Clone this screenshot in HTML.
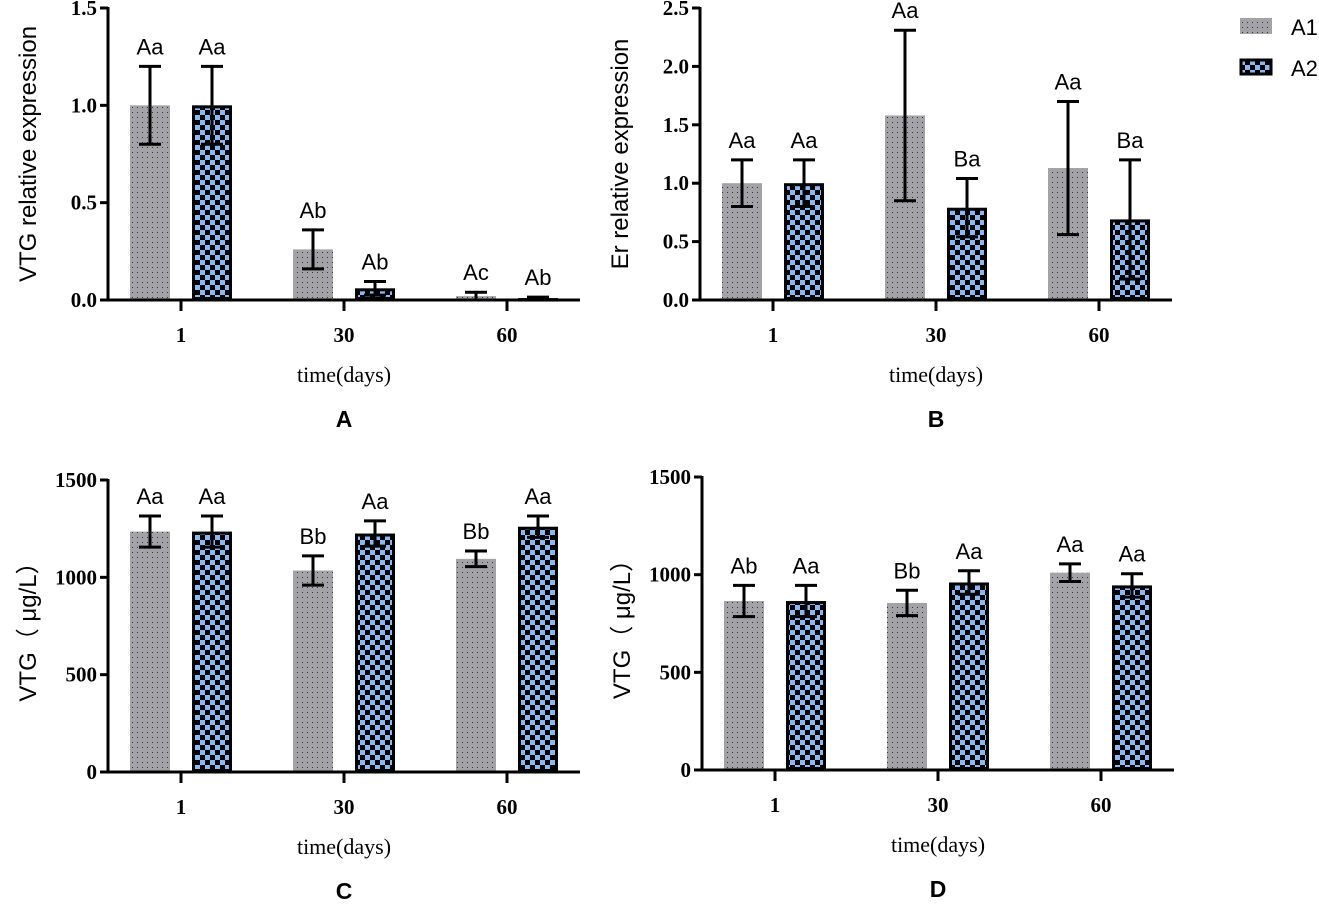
<!DOCTYPE html>
<html><head><meta charset="utf-8"><style>
html,body{margin:0;padding:0;background:#fff;}
svg{display:block;}
.tk{font-family:"Liberation Serif",serif;font-weight:bold;font-size:21px;}
.xt{font-family:"Liberation Serif",serif;font-size:22px;}
.sa{font-family:"Liberation Sans",sans-serif;}
</style></head><body>
<svg id="c" width="1319" height="907" xmlns="http://www.w3.org/2000/svg">
<defs>
<pattern id="dots" width="5" height="5" patternUnits="userSpaceOnUse">
<rect width="5" height="5" fill="#a3a3a7"/><rect x="2" y="2" width="1" height="1" fill="#333"/></pattern>
<pattern id="chk" width="10" height="10" patternUnits="userSpaceOnUse">
<rect width="10" height="10" fill="#000"/><rect width="5" height="5" fill="#8ab8f0"/><rect x="5" y="5" width="5" height="5" fill="#8ab8f0"/></pattern>
</defs>
<g>
<rect x="1240" y="18" width="32" height="16" fill="url(#dots)"/>
<text x="1291" y="35" class="sa" font-size="22">A1</text>
<rect x="1241" y="60" width="30" height="14" fill="url(#chk)" stroke="#000" stroke-width="3"/>
<text x="1291" y="76" class="sa" font-size="22">A2</text>
</g>
</svg>
<script>
const groups=["1","30","60"];
const aA1=[1.0,0.26,0.02], aA1e=[0.2,0.1,0.02], aA2=[1.0,0.06,0.01], aA2e=[0.2,0.035,0.005];
const aL1=["Aa","Ab","Ac"], aL2=["Aa","Ab","Ab"];
const bA1=[1.0,1.58,1.13], bA1e=[0.2,0.73,0.57], bA2=[1.0,0.79,0.69], bA2e=[0.2,0.25,0.51];
const bL1=["Aa","Aa","Aa"], bL2=["Aa","Ba","Ba"];
const cA1=[1235,1035,1095], cA1e=[80,75,40], cA2=[1235,1225,1260], cA2e=[80,65,55];
const cL1=["Aa","Bb","Bb"], cL2=["Aa","Aa","Aa"];
const dA1=[865,855,1010], dA1e=[80,65,45], dA2=[865,960,945], dA2e=[80,60,60];
const dL1=["Ab","Bb","Aa"], dL2=["Aa","Aa","Aa"];
const aTicks=["0.0","0.5","1.0","1.5"], bTicks=["0.0","0.5","1.0","1.5","2.0","2.5"], cTicks=["0","500","1000","1500"];

const svg=document.getElementById('c');
const NS="http://www.w3.org/2000/svg";
function mk(t,a,p){const e=document.createElementNS(NS,t);for(const k in a)e.setAttribute(k,a[k]);(p||svg).appendChild(e);return e;}

function panel(id,ax,y0,yTop,ymax,ticks,s1,e1,s2,e2,l1,l2,ytitle,letter){
  const g=mk('g',{});
  
  
  const ys=v=>y0-(v/ymax)*(y0-yTop);
  const xc=i=>ax+73+i*163;
  const yl=mk('line',{x1:ax,y1:yTop-1,x2:ax,y2:y0+1.5,stroke:'#000','stroke-width':3},g);
  
  
  ticks.forEach(t=>{
    const v=parseFloat(t),y=ys(v);
    mk('line',{x1:ax-8,y1:y,x2:ax,y2:y,stroke:'#000','stroke-width':3},g);
    const tx=mk('text',{x:ax-11,y:y+7,'text-anchor':'end',class:'tk'},g);
    tx.textContent=t;
    
    
  });
  const xl=mk('line',{x1:ax,y1:y0,x2:ax+472,y2:y0,stroke:'#000','stroke-width':3},g);
  
  
  groups.forEach((gname,i)=>{
    const c=xc(i);
    mk('line',{x1:c,y1:y0,x2:c,y2:y0+11,stroke:'#000','stroke-width':3},g);
    const tx=mk('text',{x:c,y:y0+42,'text-anchor':'middle',class:'tk'},g);
    tx.textContent=gname;
    
    
    const x1=c-51,w=40;
    const r1=mk('rect',{x:x1,y:ys(s1[i]),width:w,height:y0-1.5-ys(s1[i]),fill:'url(#dots)'},g);
    
    
    const x2=c+12.5,w2=37;
    const h2=Math.max(y0-1.5-ys(s2[i])-1.5,0.5);
    const r2=mk('rect',{x:x2,y:ys(s2[i])+1.5,width:w2,height:h2,fill:'url(#chk)',stroke:'#000','stroke-width':3},g);
    
    
    [[x1+w/2,s1[i],e1[i],l1[i],'a1'],[x2+w2/2,s2[i],e2[i],l2[i],'a2']].forEach(([cx,v,e,lab,sn])=>{
      const top=ys(v+e),bot=ys(Math.max(v-e,0));
      const eg=mk('g',{stroke:'#000','stroke-width':3},g);
      
      
      mk('line',{x1:cx,y1:top,x2:cx,y2:bot},eg);
      mk('line',{x1:cx-11,y1:top,x2:cx+11,y2:top},eg);
      mk('line',{x1:cx-11,y1:bot,x2:cx+11,y2:bot},eg);
      const lt=mk('text',{x:cx,y:top-12,'text-anchor':'middle',class:'sa','font-size':22},g);
      lt.textContent=lab;
      
      
    });
  });
  const xt=mk('text',{x:ax+236,y:y0+82,'text-anchor':'middle',class:'xt'},g);
  xt.textContent='time(days)';
  
  
  const yt=mk('text',{x:0,y:0,'text-anchor':'middle',class:'sa','font-size':24,transform:`translate(${ax-72},${(y0+yTop)/2}) rotate(-90)`},g);
  yt.textContent=ytitle;
  
  
  const pl=mk('text',{x:ax+236,y:y0+127,'text-anchor':'middle',class:'sa','font-size':23,'font-weight':'bold'},g);
  pl.textContent=letter;
  
  
}
panel('a',108,300,8,1.5,aTicks,aA1,aA1e,aA2,aA2e,aL1,aL2,'VTG relative expression','A');
panel('b',700,300,8,2.5,bTicks,bA1,bA1e,bA2,bA2e,bL1,bL2,'Er relative expression','B');
panel('c',108,772,480,1500,cTicks,cA1,cA1e,cA2,cA2e,cL1,cL2,'VTG\uFF08 \u03BCg/L\uFF09','C');
panel('d',702,770,477,1500,cTicks,dA1,dA1e,dA2,dA2e,dL1,dL2,'VTG\uFF08 \u03BCg/L\uFF09','D');
</script>
</body></html>
